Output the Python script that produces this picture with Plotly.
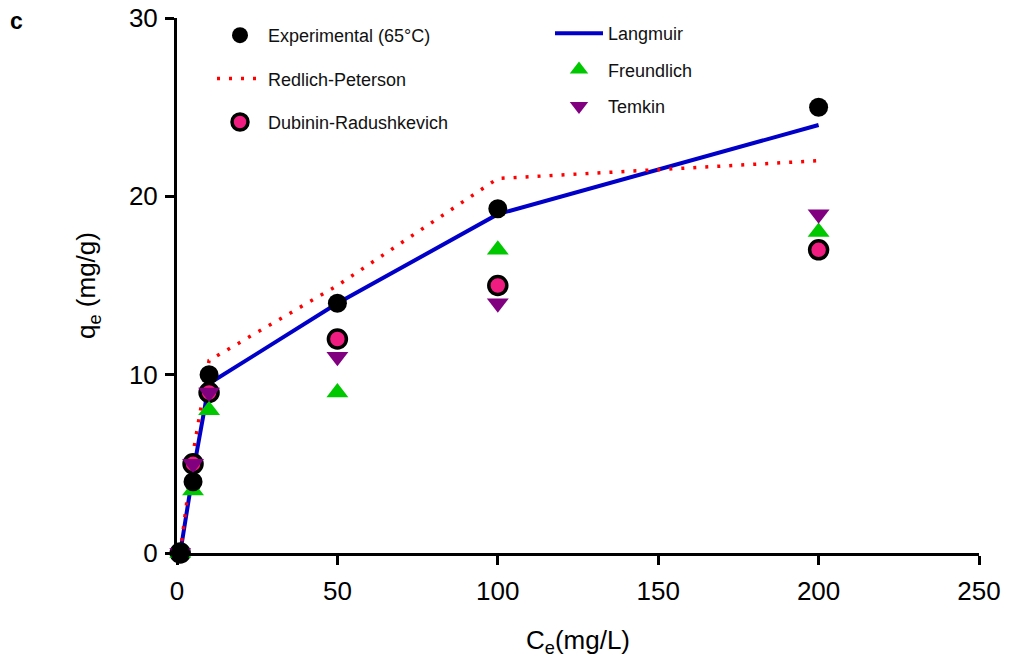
import plotly.graph_objects as go

# Equilibrium concentration Ce (mg/L)
ce = [1, 5, 10, 50, 100, 200]

# Adsorbed amount qe (mg/g)
q_experimental = [0, 4, 10, 14, 19.3, 25]
q_langmuir = [0, 4.5, 9.5, 14, 19, 24]
q_redlich_peterson = [0, 5.6, 10.8, 15, 21, 22]
q_dubinin = [0, 5, 9, 12, 15, 17]
q_freundlich = [0, 3.5, 8, 9, 17, 18]
q_temkin = [0, 5, 9, 11, 14, 19]

x_ticks = [0, 50, 100, 150, 200, 250]
y_ticks = [0, 10, 20, 30]

FONT = "Liberation Sans, Arial, sans-serif"

# plot area in pixels: left 177, right 979, top 18, bottom 553
PX_L, PX_R, PX_T, PX_B = 177, 979, 18, 553


def paper_x(px):
    return (px - PX_L) / (PX_R - PX_L)


def paper_y(py):
    return (PX_B - py) / (PX_B - PX_T)


fig = go.Figure()

fig.add_trace(go.Scatter(
    x=ce, y=q_langmuir, mode="lines", name="Langmuir",
    line=dict(color="#0000C8", width=4),
    legend="legend2", legendgroup="lang", legendrank=1, cliponaxis=False))
fig.add_trace(go.Scatter(
    x=ce, y=q_redlich_peterson, mode="lines", name="Redlich-Peterson",
    line=dict(color="#FF0000", width=3.5, dash="3px,9px"),
    legend="legend", legendgroup="rp", legendrank=2, cliponaxis=False))
fig.add_trace(go.Scatter(
    x=ce, y=q_dubinin, mode="markers", name="Dubinin-Radushkevich",
    marker=dict(symbol="circle", size=18, color="#F01C80",
                line=dict(color="black", width=3.5)),
    legend="legend", legendgroup="dr", legendrank=3, cliponaxis=False))
fig.add_trace(go.Scatter(
    x=ce, y=q_freundlich, mode="markers", name="Freundlich",
    marker=dict(symbol="triangle-up", size=19, color="#00C800", line=dict(width=0)),
    legend="legend2", legendgroup="fr", legendrank=2, cliponaxis=False))
fig.add_trace(go.Scatter(
    x=ce, y=q_temkin, mode="markers", name="Temkin",
    marker=dict(symbol="triangle-down", size=19, color="#800080", line=dict(width=0)),
    legend="legend2", legendgroup="tk", legendrank=3, cliponaxis=False))
fig.add_trace(go.Scatter(
    x=ce, y=q_experimental, mode="markers", name="Experimental (65°C)",
    marker=dict(symbol="circle", size=19, color="black", line=dict(width=0)),
    legend="legend", legendgroup="exp", legendrank=1, cliponaxis=False))

legend_common = dict(
    xref="paper", yref="paper", xanchor="left", yanchor="top",
    bgcolor="rgba(0,0,0,0)", borderwidth=0,
    font=dict(family=FONT, size=18, color="#111111"),
    traceorder="grouped",
)

fig.update_layout(
    width=1015, height=666,
    paper_bgcolor="white", plot_bgcolor="white",
    margin=dict(l=PX_L, r=1015 - PX_R, t=PX_T, b=666 - PX_B, autoexpand=False),
    font=dict(family=FONT, color="black"),
    showlegend=True,
    legend=dict(**legend_common, x=paper_x(212), y=paper_y(17),
                itemwidth=46, tracegroupgap=17),
    legend2=dict(**legend_common, x=paper_x(550), y=paper_y(15),
                 itemwidth=48, tracegroupgap=10),
    xaxis=dict(
        range=[0, 250], tickvals=x_ticks, ticktext=[str(v) for v in x_ticks],
        showline=True, linecolor="black", linewidth=3,
        ticks="outside", ticklen=9, tickwidth=3, tickcolor="black",
        showgrid=False, zeroline=False, tickangle=0, ticklabelstandoff=4,
        tickfont=dict(family=FONT, size=26, color="black"),
        title=dict(text="C<sub>e</sub>(mg/L)", standoff=26,
                   font=dict(family=FONT, size=26, color="black")),
    ),
    yaxis=dict(
        range=[0, 30], tickvals=y_ticks, ticktext=[str(v) for v in y_ticks],
        showline=True, linecolor="black", linewidth=3,
        ticks="outside", ticklen=9, tickwidth=3, tickcolor="black",
        showgrid=False, zeroline=False, ticklabelstandoff=2,
        tickfont=dict(family=FONT, size=26, color="black"),
        title=dict(text="q<sub>e</sub> (mg/g)", standoff=26,
                   font=dict(family=FONT, size=26, color="black")),
    ),
    annotations=[dict(
        text="<b>c</b>", xref="paper", yref="paper",
        x=paper_x(16), y=paper_y(21), xanchor="center", yanchor="middle",
        showarrow=False, font=dict(family=FONT, size=23, color="black"))],
)

fig.write_html("out.html")
